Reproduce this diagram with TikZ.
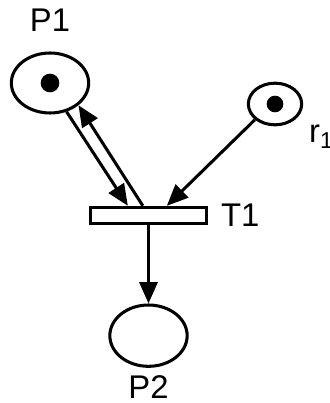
\documentclass[tikz,border=0pt]{standalone}
\usepackage{fontspec}
\setmainfont{Liberation Sans}
\usetikzlibrary{arrows.meta,positioning,shapes.geometric}
\tikzset{
  place/.style = {draw, ellipse, line width=2.6pt, inner sep=0pt,
                  minimum width=2.32cm, minimum height=1.8cm},
  res/.style   = {place, minimum width=1.6cm, minimum height=1.25cm},
  token/.style = {circle, fill=black, inner sep=0pt, minimum size=0.56cm},
  trans/.style = {draw, rectangle, line width=2.6pt, inner sep=0pt,
                  minimum width=3.49cm, minimum height=0.49cm},
  lbl/.style   = {font=\fontsize{28}{32}\selectfont, inner sep=0pt},
  arc/.style   = {-{Triangle[length=0.64cm,width=0.54cm]}, line width=2.6pt},
}

\begin{document}
\begin{tikzpicture}
  \useasboundingbox (0,0) rectangle (9.9,12.09);
  % places and transition
  \node[place] (P1) at (1.5,9.6) {};
  \node[token] (P1tok) at (P1.center) {};
  \node[res] (r1) at (8.25,8.97) {};
  \node[token, minimum size=0.5cm] (r1tok) at (r1.center) {};
  \node[trans] (T1) at (4.455,5.625) {};
  \node[place, minimum height=1.84cm] (P2) at (4.455,2.02) {};
  % labels
  \node[lbl, above=0.6cm of P1] (P1lbl) {P1};
  \node[lbl, right=0.38cm of T1] (T1lbl) {T1};
  \node[lbl, below=0.24cm of P2] (P2lbl) {P2};
  \node[lbl, anchor=base west] (r1lbl) at (9.27,7.8) {r\textsubscript{1}};
  % arcs
  \draw[arc] (P1.-60) -- ([xshift=-0.62cm]T1.north);
  \draw[arc] ([xshift=-0.17cm]T1.north) -- (P1.-38);
  \draw[arc] (r1.-142) -- ([xshift=0.55cm]T1.north);
  \draw[arc] (T1.south) -- (P2.north);
\end{tikzpicture}
\end{document}
